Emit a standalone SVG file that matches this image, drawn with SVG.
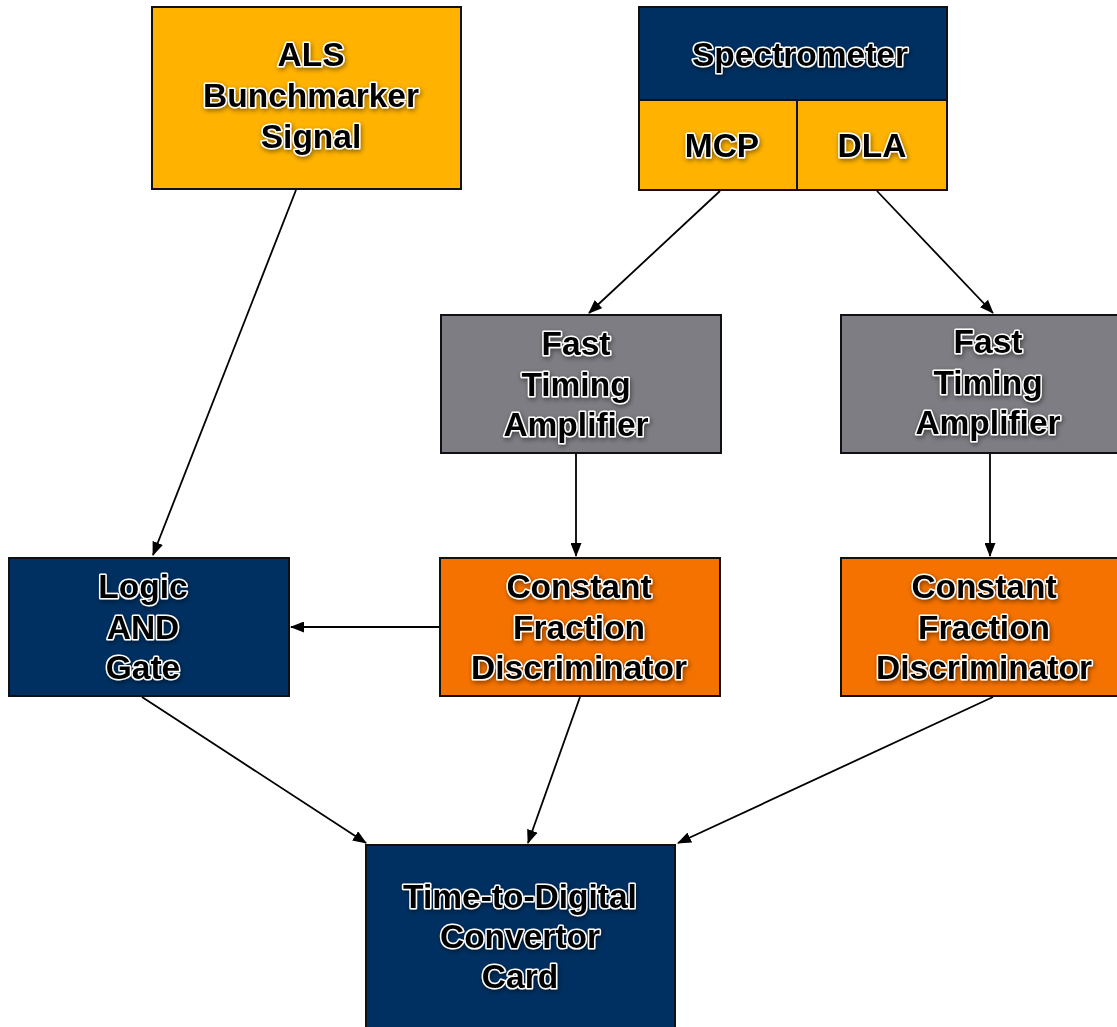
<svg xmlns="http://www.w3.org/2000/svg" width="1117" height="1027" viewBox="0 0 1117 1027">
  <style>
    .box { stroke: #111; stroke-width: 2; }
    .amber { fill: #FFB300; }
    .navy { fill: #003061; }
    .gray { fill: #7E7D83; }
    .orange { fill: #F57200; }
    .lbl { font-family: "Liberation Sans", Arial, sans-serif; font-weight: bold; font-size: 33.5px;
           fill: #000; stroke: #fff; stroke-width: 3; stroke-linejoin: round; paint-order: stroke;
           text-anchor: middle; filter: url(#glow); }
    .wire { stroke: #000; stroke-width: 1.8; fill: none; marker-end: url(#arrow); }
  </style>
  <defs>
    <filter id="glow" x="-20%" y="-40%" width="140%" height="180%">
      <feDropShadow dx="1" dy="2" stdDeviation="2.5" flood-color="#000" flood-opacity="0.45"/>
    </filter>
    <marker id="arrow" viewBox="0 0 14 11" refX="13" refY="5.5" markerWidth="14" markerHeight="11" markerUnits="userSpaceOnUse" orient="auto">
      <path d="M0,0 L14,5.5 L0,11 Z" fill="#000"/>
    </marker>
  </defs>

  <rect width="1117" height="1027" fill="#fff"/>

  <g id="connectors">
    <line class="wire" x1="296" y1="190" x2="153" y2="555"/>
    <line class="wire" x1="720" y1="191" x2="589" y2="313"/>
    <line class="wire" x1="877" y1="191" x2="993" y2="313"/>
    <line class="wire" x1="576" y1="454" x2="576" y2="556"/>
    <line class="wire" x1="990" y1="454" x2="990" y2="556"/>
    <line class="wire" x1="440" y1="627" x2="291" y2="627"/>
    <line class="wire" x1="142" y1="697" x2="366" y2="843"/>
    <line class="wire" x1="580" y1="697" x2="528" y2="843"/>
    <line class="wire" x1="993" y1="697" x2="678" y2="843"/>
  </g>

  <g id="als">
    <rect class="box amber" x="152" y="7" width="309" height="182"/>
    <text class="lbl" x="311" y="66">ALS</text>
    <text class="lbl" x="311" y="107">Bunchmarker</text>
    <text class="lbl" x="311" y="148">Signal</text>
  </g>

  <g id="spectrometer">
    <rect class="box navy" x="639" y="7" width="308" height="93"/>
    <rect class="box amber" x="639" y="100" width="158" height="90"/>
    <rect class="box amber" x="797" y="100" width="150" height="90"/>
    <text class="lbl" x="800" y="66">Spectrometer</text>
    <text class="lbl" x="722" y="157">MCP</text>
    <text class="lbl" x="872" y="157">DLA</text>
  </g>

  <g id="fta-mcp">
    <rect class="box gray" x="441" y="315" width="280" height="138"/>
    <text class="lbl" x="576" y="355">Fast</text>
    <text class="lbl" x="576" y="396">Timing</text>
    <text class="lbl" x="576" y="436">Amplifier</text>
  </g>

  <g id="fta-dla">
    <rect class="box gray" x="841" y="315" width="290" height="138"/>
    <text class="lbl" x="988" y="353">Fast</text>
    <text class="lbl" x="988" y="394">Timing</text>
    <text class="lbl" x="988" y="434">Amplifier</text>
  </g>

  <g id="logic-and">
    <rect class="box navy" x="9" y="558" width="280" height="138"/>
    <text class="lbl" x="143" y="598">Logic</text>
    <text class="lbl" x="143" y="639">AND</text>
    <text class="lbl" x="143" y="679">Gate</text>
  </g>

  <g id="cfd-mcp">
    <rect class="box orange" x="440" y="558" width="280" height="138"/>
    <text class="lbl" x="579" y="598">Constant</text>
    <text class="lbl" x="579" y="639">Fraction</text>
    <text class="lbl" x="579" y="679">Discriminator</text>
  </g>

  <g id="cfd-dla">
    <rect class="box orange" x="841" y="558" width="290" height="138"/>
    <text class="lbl" x="984" y="598">Constant</text>
    <text class="lbl" x="984" y="639">Fraction</text>
    <text class="lbl" x="984" y="679">Discriminator</text>
  </g>

  <g id="tdc">
    <rect class="box navy" x="366" y="845" width="309" height="190"/>
    <text class="lbl" x="520" y="908">Time-to-Digital</text>
    <text class="lbl" x="520" y="948">Convertor</text>
    <text class="lbl" x="520" y="988">Card</text>
  </g>
</svg>
